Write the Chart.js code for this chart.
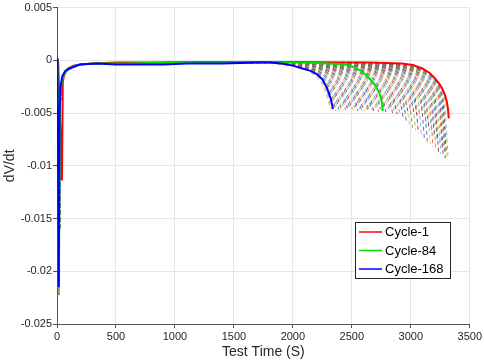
<!DOCTYPE html>
<html>
<head>
<meta charset="utf-8">
<script src="https://cdn.jsdelivr.net/npm/chart.js@4.4.1/dist/chart.umd.min.js"></script>
<style>
  html, body { margin: 0; padding: 0; background: #fff; }
  #wrap { width: 484px; height: 363px; }
</style>
</head>
<body>
<div id="wrap"><canvas id="c" width="484" height="363"></canvas></div>
<script>
// ---- Highlighted cycles ----
const cycle1T = [0, 10, 42, 49, 62, 90, 140, 200, 300, 500, 800, 1200, 1600, 2000, 2400, 2650, 2800, 2920, 3017, 3102, 3160, 3203, 3240, 3263, 3290, 3305, 3315, 3322];
const cycle1V = [0.0003, -0.0002, -0.0114, -0.002, -0.0013, -0.0008, -0.0005, -0.0004, -0.0003, -0.0002, -0.0002, -0.00015, -0.00015, -0.00015, -0.0002, -0.0002, -0.00025, -0.0003, -0.00045, -0.0008, -0.0012, -0.0017, -0.0022, -0.0026, -0.0033, -0.0039, -0.0046, -0.0055];

const cycle84T = [0, 5, 16, 26, 40, 60, 100, 150, 200, 300, 600, 1000, 1400, 1800, 2100, 2300, 2440, 2508, 2580, 2650, 2700, 2737, 2755, 2763];
const cycle84V = [0.0001, -0.001, -0.0205, -0.0035, -0.002, -0.0013, -0.0008, -0.0005, -0.0004, -0.0003, -0.0003, -0.0002, -0.0002, -0.0002, -0.0002, -0.0003, -0.0004, -0.0006, -0.001, -0.0017, -0.0024, -0.0032, -0.004, -0.0048];

const cycle168T = [0, 4, 15, 22, 30, 45, 70, 110, 195, 340, 500, 700, 900, 1100, 1400, 1700, 1805, 1900, 2000, 2060, 2150, 2203, 2250, 2288, 2320, 2340];
const cycle168V = [0.0002, -0.001, -0.0215, -0.005, -0.0025, -0.0015, -0.001, -0.00075, -0.0004, -0.0003, -0.0004, -0.0004, -0.0004, -0.0003, -0.0003, -0.0002, -0.0002, -0.0003, -0.0005, -0.0007, -0.001, -0.0013, -0.0018, -0.0026, -0.0036, -0.0046];

// ---- Other cycles (dashed): end time and end value of each ----
const otherEndT = [2318, 2330, 2352, 2365, 2378, 2392, 2405, 2418, 2430, 2446, 2458, 2470, 2485, 2498, 2512, 2525, 2540, 2552, 2566, 2580, 2592, 2606, 2620, 2633, 2646, 2660, 2672, 2686, 2700, 2712, 2726, 2740, 2752, 2778, 2790, 2804, 2818, 2830, 2845, 2858, 2870, 2884, 2898, 2910, 2924, 2936, 2950, 2962, 2975, 2988, 3000, 3014, 3026, 3040, 3052, 3065, 3078, 3090, 3102, 3115, 3128, 3140, 3152, 3165, 3176, 3188, 3200, 3212, 3224, 3235, 3246, 3256, 3266, 3275, 3284, 3292, 3300, 3308, 3315];
const otherEndV = [-0.0046, -0.0047, -0.0045, -0.0048, -0.0046, -0.0047, -0.0045, -0.0048, -0.0046, -0.0047, -0.0045, -0.0048, -0.0047, -0.0046, -0.0048, -0.0045, -0.0047, -0.0048, -0.0046, -0.0047, -0.0045, -0.0048, -0.0046, -0.0047, -0.0049, -0.0046, -0.0047, -0.0048, -0.0045, -0.0047, -0.0049, -0.0046, -0.0048, -0.0047, -0.0049, -0.0046, -0.0048, -0.0047, -0.005, -0.0048, -0.0046, -0.0051, -0.0048, -0.0052, -0.0047, -0.0055, -0.0049, -0.0058, -0.0048, -0.0061, -0.005, -0.0064, -0.0049, -0.0066, -0.0051, -0.0069, -0.0055, -0.0071, -0.0052, -0.0074, -0.0058, -0.0077, -0.0063, -0.0079, -0.0068, -0.0082, -0.0072, -0.0084, -0.0076, -0.0087, -0.008, -0.0089, -0.0083, -0.0091, -0.0086, -0.0093, -0.0088, -0.0095, -0.009];
// shared start-of-discharge profile and end-of-discharge knee profile of the dashed cycles
const otherStartT = [0, 5, 18, 28, 45, 70, 110, 190, 300];
const otherStartV = [0.0001, -0.001, -0.0222, -0.004, -0.0018, -0.0012, -0.0008, -0.0004, -0.0003];
const kneeBeforeEnd = [700, 560, 440, 340, 260, 190, 135, 90, 55, 28];
const kneeV = [-0.0002, -0.00025, -0.00035, -0.0005, -0.0007, -0.001, -0.0014, -0.0019, -0.0026, -0.0035];

// ---- Axis ticks ----
const xTicks = [0, 500, 1000, 1500, 2000, 2500, 3000, 3500];
const yTicks = [0.005, 0, -0.005, -0.01, -0.015, -0.02, -0.025];

function pts(T, V) { return T.map((t, i) => ({ x: t, y: V[i] })); }

const datasets = [
  { label: 'Cycle-1', data: pts(cycle1T, cycle1V), borderColor: '#ff0000', borderWidth: 2, order: 2, legend: true },
  { label: 'Cycle-84', data: pts(cycle84T, cycle84V), borderColor: '#00e000', borderWidth: 2, order: 1, legend: true },
  { label: 'Cycle-168', data: pts(cycle168T, cycle168V), borderColor: '#0000ff', borderWidth: 2, order: 0, legend: true },
];

const dashedColors = ['#EDB120', '#4DBEEE', '#D95319', '#7E2F8E', '#77AC30', '#0072BD', '#A2142F'];
otherEndT.forEach((endT, k) => {
  const data = pts(otherStartT, otherStartV);
  kneeBeforeEnd.forEach((dt, i) => data.push({ x: endT - dt, y: kneeV[i] }));
  data.push({ x: endT, y: otherEndV[k] });
  datasets.push({
    label: 'cycle-other-' + k,
    data,
    borderColor: dashedColors[k % dashedColors.length] + 'cc',
    borderWidth: 1,
    borderDash: [4, 3],
    order: 3,
    legend: false
  });
});

datasets.forEach(d => { d.pointRadius = 0; d.fill = false; d.tension = 0; });

const legendBox = {
  id: 'legendBox',
  afterDraw(chart) {
    const ctx = chart.ctx;
    const items = chart.data.datasets.filter(d => d.legend);
    const x0 = 355, y0 = 222, w = 95, h = 56;
    ctx.save();
    ctx.fillStyle = '#fff';
    ctx.fillRect(x0, y0, w, h);
    ctx.strokeStyle = '#262626';
    ctx.lineWidth = 1;
    ctx.strokeRect(x0 + 0.5, y0 + 0.5, w, h);
    ctx.font = '13px "Liberation Sans", Arial, sans-serif';
    ctx.textBaseline = 'middle';
    ctx.textAlign = 'left';
    items.forEach((d, i) => {
      const yy = y0 + 10 + i * 18.5;
      ctx.strokeStyle = d.borderColor;
      ctx.lineWidth = 1.5;
      ctx.beginPath();
      ctx.moveTo(x0 + 4, yy);
      ctx.lineTo(x0 + 27, yy);
      ctx.stroke();
      ctx.fillStyle = '#000';
      ctx.fillText(d.label, x0 + 30, yy + 0.5);
    });
    ctx.restore();
  }
};

const fmt = v => { const r = Math.round(v * 1000) / 1000; return r === 0 ? '0' : String(r); };

new Chart(document.getElementById('c'), {
  type: 'line',
  data: { datasets },
  plugins: [legendBox],
  options: {
    responsive: false,
    animation: false,
    layout: { padding: { left: 0, top: 6, right: 14, bottom: 0 } },
    plugins: { legend: { display: false }, tooltip: { enabled: false } },
    scales: {
      x: {
        type: 'linear',
        min: 0, max: 3500,
        afterBuildTicks: s => { s.ticks = xTicks.map(v => ({ value: v })); },
        afterFit: s => { s.height = 39; },
        grid: { color: '#e6e6e6', tickLength: 4, tickColor: '#555' },
        border: { color: '#555', width: 1 },
        ticks: { color: '#262626', font: { family: '"Liberation Sans", Arial, sans-serif', size: 11 }, padding: 2, maxRotation: 0, callback: v => String(v) },
        title: { display: true, text: 'Test Time (S)', color: '#262626', font: { family: '"Liberation Sans", Arial, sans-serif', size: 14 }, padding: { top: 0, bottom: 2 } }
      },
      y: {
        type: 'linear',
        min: -0.025, max: 0.005,
        afterBuildTicks: s => { s.ticks = yTicks.map(v => ({ value: v })); },
        afterFit: s => { s.width = 57; },
        grid: { color: '#e6e6e6', tickLength: 4, tickColor: '#555' },
        border: { color: '#555', width: 1 },
        ticks: { color: '#262626', font: { family: '"Liberation Sans", Arial, sans-serif', size: 11 }, padding: 1, callback: v => fmt(v) },
        title: { display: true, text: 'dV/dt', color: '#262626', font: { family: '"Liberation Sans", Arial, sans-serif', size: 14 }, padding: { top: 2, bottom: 0 } }
      }
    }
  }
});
</script>
</body>
</html>
